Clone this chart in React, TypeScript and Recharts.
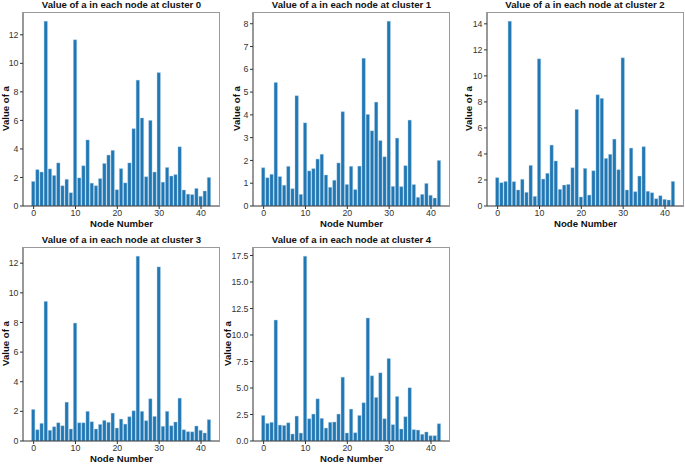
import React from 'react';
import { BarChart, Bar, XAxis, YAxis } from 'recharts';

const nodes = [0,1,2,3,4,5,6,7,8,9,10,11,12,13,14,15,16,17,18,19,20,21,22,23,24,25,26,27,28,29,30,31,32,33,34,35,36,37,38,39,40,41,42];

const cluster0 = [1.72,2.55,2.38,12.95,2.6,2.13,3.02,1.42,1.87,0.93,11.65,1.97,2.82,4.63,1.6,1.42,1.92,2.98,3.57,3.9,1.14,2.62,1.62,3.02,5.42,8.82,6.17,2.05,6.0,2.38,9.35,1.67,2.7,2.1,2.2,4.15,1.12,0.83,0.8,1.23,0.68,1.05,2.0];
const cluster1 = [1.68,1.24,1.39,5.42,1.29,0.91,1.74,0.76,4.84,0.51,3.65,1.54,1.64,2.06,2.27,1.36,0.82,1.13,1.89,4.14,0.94,1.74,0.72,1.75,6.48,4.02,3.3,4.56,2.87,2.16,8.11,0.86,2.98,0.85,1.77,3.77,0.94,0.38,0.51,0.99,0.47,0.35,2.0];
const cluster2 = [2.18,1.79,1.89,14.2,1.87,1.23,2.05,1.05,3.12,0.74,11.31,2.07,2.51,4.68,3.46,1.28,1.61,1.66,2.94,7.42,0.69,2.89,0.84,2.71,8.55,8.27,3.66,3.97,5.14,2.79,11.39,1.23,4.45,1.1,2.3,4.56,1.13,1.02,0.56,0.79,0.51,0.46,1.89];
const cluster3 = [2.13,0.76,1.19,9.42,0.72,0.96,1.23,1.03,2.62,0.81,7.96,1.23,1.23,2.0,1.3,0.81,1.12,1.39,1.26,1.88,0.87,1.48,1.14,1.64,2.04,12.47,2.0,1.37,2.85,1.66,11.75,0.99,2.0,1.03,1.28,2.89,0.76,0.63,0.62,1.01,0.72,0.54,1.44];
const cluster4 = [2.41,1.66,1.76,11.41,1.5,1.47,1.72,0.66,2.35,0.75,17.43,2.1,2.54,3.98,2.13,1.22,1.76,1.79,2.54,6.02,0.75,3.01,0.78,2.41,3.61,11.6,6.15,4.11,6.43,2.1,7.78,1.54,4.2,1.13,2.29,5.02,1.07,1.03,0.63,0.85,0.5,0.5,1.63];

const xTicks = [0, 10, 20, 30, 40];
const yTicks0 = [0, 2, 4, 6, 8, 10, 12];
const yTicks1 = [0, 1, 2, 3, 4, 5, 6, 7, 8];
const yTicks2 = [0, 2, 4, 6, 8, 10, 12, 14];
const yTicks3 = [0, 2, 4, 6, 8, 10, 12];
const yTicks4 = [0, 2.5, 5, 7.5, 10, 12.5, 15, 17.5];

const titles = [
  'Value of a in each node at cluster 0',
  'Value of a in each node at cluster 1',
  'Value of a in each node at cluster 2',
  'Value of a in each node at cluster 3',
  'Value of a in each node at cluster 4',
];

const FONT = '"Liberation Sans", Arial, sans-serif';
const FW = 197; // frame width
const FH = 194; // frame height
const LEFT = 34;
const TOP = 14;
const BOTTOM = 36;
const RIGHT = 2;

type Panel = {
  title: string;
  values: number[];
  ticks: number[];
  max: number;
  fx: number;
  fy: number;
  labelOff: number;
  decimals: boolean;
};

const panels: Panel[] = [
  { title: titles[0], values: cluster0, ticks: yTicks0, max: 12.95 * 1.05, fx: 23, fy: 11.5, labelOff: 18, decimals: false },
  { title: titles[1], values: cluster1, ticks: yTicks1, max: 8.11 * 1.05, fx: 253, fy: 11.5, labelOff: 16.5, decimals: false },
  { title: titles[2], values: cluster2, ticks: yTicks2, max: 14.2 * 1.05, fx: 486.5, fy: 11.5, labelOff: 18, decimals: false },
  { title: titles[3], values: cluster3, ticks: yTicks3, max: 12.47 * 1.05, fx: 23, fy: 246.5, labelOff: 18, decimals: false },
  { title: titles[4], values: cluster4, ticks: yTicks4, max: 17.43 * 1.05, fx: 253, fy: 246.5, labelOff: 26, decimals: true },
];

function PanelChart({ p }: { p: Panel }) {
  const data = nodes.map((n, i) => ({ node: n, a: p.values[i] }));
  const unit = FW / 47.08;
  return (
    <div style={{ position: 'absolute', left: p.fx - LEFT, top: p.fy - TOP }}>
      <BarChart
        width={LEFT + FW + RIGHT}
        height={TOP + FH + BOTTOM}
        data={data}
        margin={{ top: TOP, right: RIGHT, bottom: 0, left: 0 }}
      >
        <XAxis
          dataKey="node"
          type="number"
          domain={[-2.54, 44.54]}
          allowDataOverflow
          ticks={xTicks}
          interval={0}
          tickSize={3}
          tickMargin={0.5}
          height={BOTTOM}
          axisLine={{ stroke: '#333', strokeWidth: 1 }}
          tickLine={{ stroke: '#333' }}
          tick={{ fontSize: 8.8, fill: '#333', fontFamily: FONT }}
          label={{
            value: 'Node Number',
            position: 'insideTop',
            offset: 14,
            style: { fontSize: 9.6, fontWeight: 'bold', fill: '#111', fontFamily: FONT },
          }}
        />
        <YAxis
          type="number"
          domain={[0, p.max]}
          allowDataOverflow
          ticks={p.ticks}
          interval={0}
          width={LEFT}
          tickSize={3}
          tickMargin={1.5}
          axisLine={{ stroke: '#333', strokeWidth: 1 }}
          tickLine={{ stroke: '#333' }}
          tick={{ fontSize: 8.8, fill: '#333', fontFamily: FONT }}
          tickFormatter={(v: number) => (p.decimals ? v.toFixed(1) : String(v))}
        />
        <Bar
          dataKey="a"
          fill="#1f77b4"
          stroke="#a9cbe6"
          strokeWidth={0.4}
          barSize={0.8 * unit}
          isAnimationActive={false}
        />
      </BarChart>
      {/* top & right frame lines */}
      <div
        style={{
          position: 'absolute',
          left: LEFT,
          top: TOP,
          width: FW,
          height: FH,
          borderTop: '1px solid #9a9a9a',
          borderRight: '1px solid #9a9a9a',
          boxSizing: 'border-box',
          pointerEvents: 'none',
        }}
      />
    </div>
  );
}

export default function App() {
  return (
    <div style={{ position: 'absolute', left: 0, top: 0, width: 685, height: 464, background: '#fff', overflow: 'hidden' }}>
      {panels.map((p, i) => (
        <PanelChart key={i} p={p} />
      ))}
      <svg width={685} height={464} style={{ position: 'absolute', left: 0, top: 0, pointerEvents: 'none' }}>
        {panels.map((p, i) => (
          <g key={i}>
            <text
              x={p.fx + FW / 2}
              y={p.fy - 3.3}
              textAnchor="middle"
              fontFamily={FONT}
              fontSize={9.6}
              fontWeight="bold"
              fill="#111"
            >
              {p.title}
            </text>
            <text
              x={p.fx - p.labelOff}
              y={p.fy + FH / 2}
              transform={`rotate(-90, ${p.fx - p.labelOff}, ${p.fy + FH / 2})`}
              textAnchor="middle"
              dominantBaseline="central"
              fontFamily={FONT}
              fontSize={9.6}
              fontWeight="bold"
              fill="#111"
            >
              Value of a
            </text>
          </g>
        ))}
      </svg>
    </div>
  );
}
